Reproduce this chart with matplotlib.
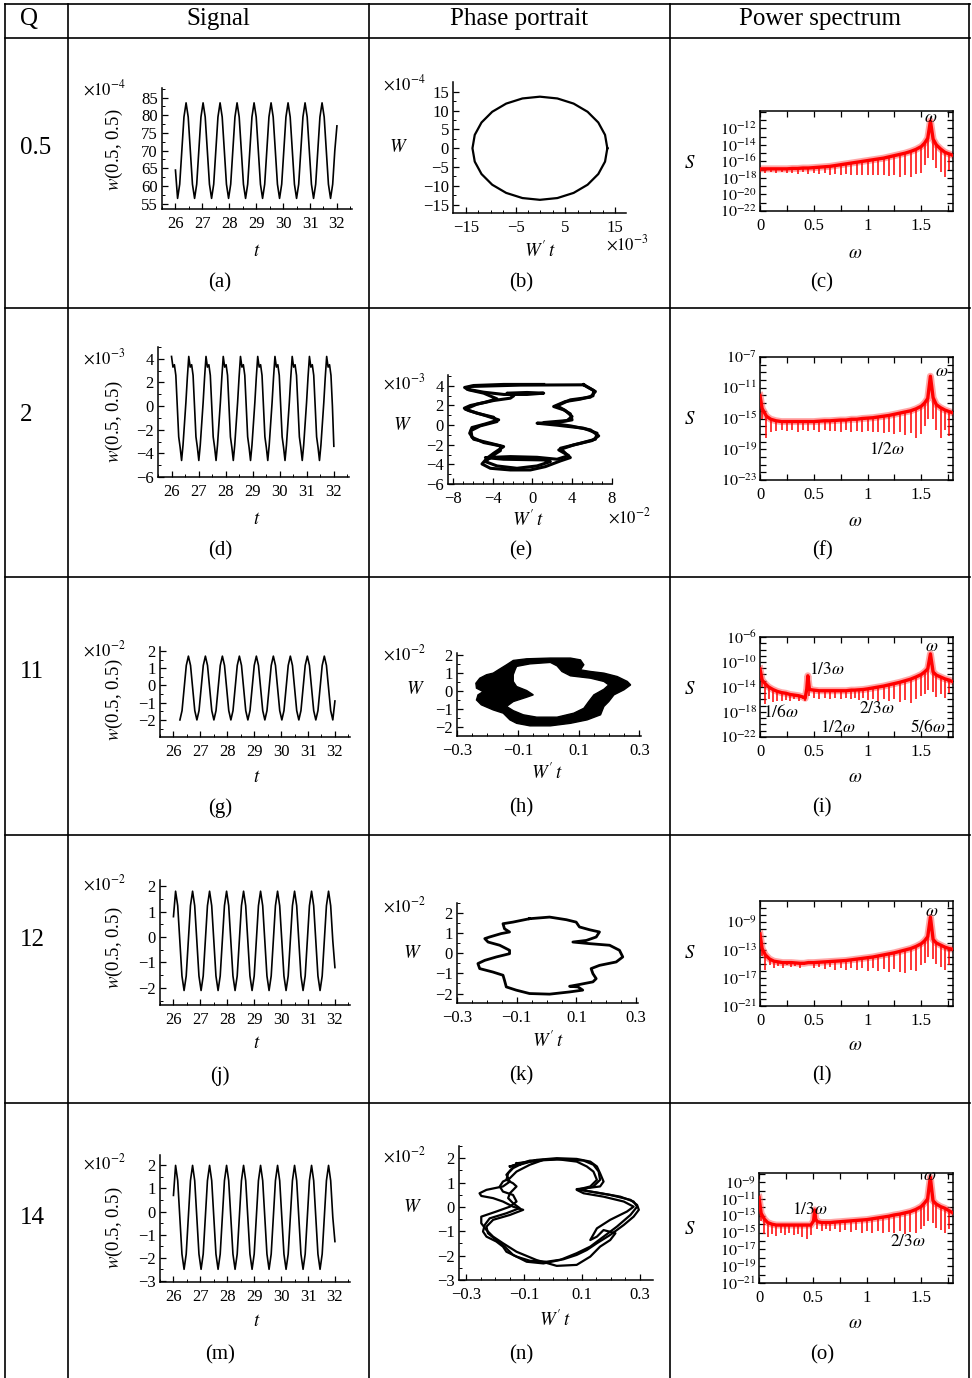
import numpy as np
import matplotlib
matplotlib.use("Agg")
import matplotlib.pyplot as plt
from matplotlib.lines import Line2D
from matplotlib.ticker import FixedLocator, FuncFormatter, NullFormatter

plt.rcParams['font.family'] = ['Liberation Serif', 'DejaVu Serif']
plt.rcParams['mathtext.fontset'] = 'stix'

# ------------------------------------------------------------------ data
headers = ["Q", "Signal", "Phase portrait", "Power spectrum"]
Q_values = ["0.5", "2", "11", "12", "14"]
tags = [["(a)", "(b)", "(c)"], ["(d)", "(e)", "(f)"], ["(g)", "(h)", "(i)"],
        ["(j)", "(k)", "(l)"], ["(m)", "(n)", "(o)"]]

# signals  w(0.5,0.5)  (values in units of the axis multiplier)
sig_a = [64.5,
         56.5, 60.5, 70, 79.5, 83.5, 79.5, 70, 60.5,
         56.5, 60.5, 70, 79.5, 83.5, 79.5, 70, 60.5,
         56.5, 60.5, 70, 79.5, 83.5, 79.5, 70, 60.5,
         56.5, 60.5, 70, 79.5, 83.5, 79.5, 70, 60.5,
         56.5, 60.5, 70, 79.5, 83.5, 79.5, 70, 60.5,
         56.5, 60.5, 70, 79.5, 83.5, 79.5, 70, 60.5,
         56.5, 60.5, 70, 79.5, 83.5, 79.5, 70, 60.5,
         56.5, 60.5, 70, 79.5, 83.5, 79.5, 70, 60.5,
         56.5, 60.5, 70, 79.5, 83.5, 79.5, 70, 60.5,
         56.5, 60.5, 70, 77.0]
sig_d = [4.2, 3.3, 3.5, 2.6, 0.0, -2.6, -3.5, -4.6, -3.3, -1.5, 0.3, 2.4,
         4.2, 3.3, 3.5, 2.6, 0.0, -2.6, -3.5, -4.6, -3.3, -1.5, 0.3, 2.4,
         4.2, 3.3, 3.5, 2.6, 0.0, -2.6, -3.5, -4.6, -3.3, -1.5, 0.3, 2.4,
         4.2, 3.3, 3.5, 2.6, 0.0, -2.6, -3.5, -4.6, -3.3, -1.5, 0.3, 2.4,
         4.2, 3.3, 3.5, 2.6, 0.0, -2.6, -3.5, -4.6, -3.3, -1.5, 0.3, 2.4,
         4.2, 3.3, 3.5, 2.6, 0.0, -2.6, -3.5, -4.6, -3.3, -1.5, 0.3, 2.4,
         4.2, 3.3, 3.5, 2.6, 0.0, -2.6, -3.5, -4.6, -3.3, -1.5, 0.3, 2.4,
         4.2, 3.3, 3.5, 2.6, 0.0, -2.6, -3.5, -4.6, -3.3, -1.5, 0.3, 2.4,
         4.2, 3.3, 3.5, 2.6, 0.0, -2.6, -3.5, -4.6, -3.3, -1.5, 0.3, 2.4,
         4.2, 3.3, 3.5, 2.6, 0.0, -3.4]
sig_g = [-2.0, -1.46, -0.15, 1.16, 1.7, 1.16, -0.15, -1.46,
         -2.0, -1.46, -0.15, 1.16, 1.7, 1.16, -0.15, -1.46,
         -2.0, -1.46, -0.15, 1.16, 1.7, 1.16, -0.15, -1.46,
         -2.0, -1.46, -0.15, 1.16, 1.7, 1.16, -0.15, -1.46,
         -2.0, -1.46, -0.15, 1.16, 1.7, 1.16, -0.15, -1.46,
         -2.0, -1.46, -0.15, 1.16, 1.7, 1.16, -0.15, -1.46,
         -2.0, -1.46, -0.15, 1.16, 1.7, 1.16, -0.15, -1.46,
         -2.0, -1.46, -0.15, 1.16, 1.7, 1.16, -0.15, -1.46,
         -2.0, -1.46, -0.15, 1.16, 1.7, 1.16, -0.15, -1.46,
         -2.0, -0.9]
sig_j = [0.8,
         1.8, 1.23, -0.15, -1.53, -2.1, -1.53, -0.15, 1.23,
         1.8, 1.23, -0.15, -1.53, -2.1, -1.53, -0.15, 1.23,
         1.8, 1.23, -0.15, -1.53, -2.1, -1.53, -0.15, 1.23,
         1.8, 1.23, -0.15, -1.53, -2.1, -1.53, -0.15, 1.23,
         1.8, 1.23, -0.15, -1.53, -2.1, -1.53, -0.15, 1.23,
         1.8, 1.23, -0.15, -1.53, -2.1, -1.53, -0.15, 1.23,
         1.8, 1.23, -0.15, -1.53, -2.1, -1.53, -0.15, 1.23,
         1.8, 1.23, -0.15, -1.53, -2.1, -1.53, -0.15, 1.23,
         1.8, 1.23, -0.15, -1.53, -2.1, -1.53, -0.15, 1.23,
         1.8, 1.23, -0.15, -1.2]
sig_m = [0.7,
         2.0, 1.34, -0.25, -1.84, -2.5, -1.84, -0.25, 1.34,
         2.0, 1.34, -0.25, -1.84, -2.5, -1.84, -0.25, 1.34,
         2.0, 1.34, -0.25, -1.84, -2.5, -1.84, -0.25, 1.34,
         2.0, 1.34, -0.25, -1.84, -2.5, -1.84, -0.25, 1.34,
         2.0, 1.34, -0.25, -1.84, -2.5, -1.84, -0.25, 1.34,
         2.0, 1.34, -0.25, -1.84, -2.5, -1.84, -0.25, 1.34,
         2.0, 1.34, -0.25, -1.84, -2.5, -1.84, -0.25, 1.34,
         2.0, 1.34, -0.25, -1.84, -2.5, -1.84, -0.25, 1.34,
         2.0, 1.34, -0.25, -1.84, -2.5, -1.84, -0.25, 1.34,
         2.0, 1.34, -0.25, -1.3]
sig_t_start = [26.0, 26.0, 26.24, 26.0, 26.0]
sig_t_end = 32.0

# phase portraits (W't on x, W on y; in axis-multiplier units)
b_x = [13.45, 12.99, 11.63, 9.48, 6.68, 3.41, -0.1, -3.61, -6.88, -9.68, -11.83, -13.19, -13.65,
       -13.19, -11.83, -9.68, -6.88, -3.61, -0.1, 3.41, 6.68, 9.48, 11.63, 12.99, 13.45]
b_y = [0.0, 3.55, 6.85, 9.69, 11.86, 13.23, 13.7, 13.23, 11.86, 9.69, 6.85, 3.55, 0.0,
       -3.55, -6.85, -9.69, -11.86, -13.23, -13.7, -13.23, -11.86, -9.69, -6.85, -3.55, 0.0]

e_x1 = [5.15, 6.16, 6.09, 4.82, 3.31, 2.13, 3.14, 3.81, 3.98, 2.47, 0.46, 2.47, 5.15, 6.50, 6.33, 4.82,
        2.81, 3.31, 3.81, 2.81, 1.30, -0.21, -2.23, -4.24, -5.08, -4.58, -3.91, -2.90, -4.24, -5.92,
        -6.32, -6.09, -4.74, -3.40, -4.74, -6.42, -6.86, -6.26, -4.74, -3.57, -4.91, -6.42, -6.83,
        -5.92, -2.90, 1.13]
e_y1 = [4.10, 3.52, 2.98, 2.64, 2.40, 1.89, 1.55, 1.14, 0.53, 0.26, 0.19, -0.01, -0.32, -0.83, -1.44,
        -1.85, -2.36, -2.87, -3.31, -3.65, -4.23, -4.57, -4.57, -4.40, -3.96, -3.38, -2.87, -2.19,
        -1.85, -1.44, -0.83, -0.25, 0.12, 0.53, 0.97, 1.48, 1.72, 1.99, 2.33, 2.67, 3.25, 3.59, 3.83,
        4.03, 4.14, 4.14]
e_x2 = [5.15, 6.33, 5.83, 3.81, 2.47, 3.31, 3.98, 3.48, 1.13, 3.81, 5.83, 6.66, 5.99, 4.15, 2.64, 3.64,
        2.47, 0.46, -2.23, -4.74, -2.90, 1.13, 1.80, 0.46, -1.56, -3.57, -4.74, -4.07, -3.23, -3.23,
        -4.91, -6.09, -6.19, -5.25, -3.57, -3.91, -5.58, -6.76, -5.58, -3.91, -2.23, -1.89, -2.56,
        -0.55, 1.13, -0.55, -2.90, -4.91, -6.59, -6.26, -1.22, 5.15]
e_y2 = [4.10, 3.42, 2.84, 2.57, 1.96, 1.48, 0.87, 0.46, 0.26, -0.08, -0.49, -1.10, -1.58, -2.02, -2.53,
        -3.11, -3.48, -3.28, -3.21, -3.31, -3.48, -3.55, -3.72, -4.16, -4.40, -4.16, -3.72, -3.14,
        -2.60, -2.12, -1.78, -1.24, -0.56, -0.08, 0.36, 0.80, 1.21, 1.62, 2.13, 2.50, 2.74, 2.98,
        3.25, 3.32, 3.25, 3.12, 3.12, 3.35, 3.66, 3.93, 4.07, 4.10]

h_out_x = [-0.115, -0.071, 0.007, 0.073, 0.106, 0.117, 0.106, 0.139, 0.183, 0.227, 0.260, 0.271,
           0.249, 0.216, 0.199, 0.183, 0.172, 0.128, 0.073, 0.007, -0.060, -0.104, -0.126, -0.148,
           -0.181, -0.220, -0.236, -0.231, -0.214, -0.236, -0.238, -0.225, -0.203, -0.181, -0.164,
           -0.137]
h_out_y = [1.69, 1.78, 1.82, 1.82, 1.72, 1.45, 1.17, 1.08, 0.99, 0.80, 0.53, 0.34, 0.07, -0.21,
           -0.58, -0.85, -1.31, -1.59, -1.78, -1.92, -1.92, -1.78, -1.59, -1.22, -1.04, -0.76,
           -0.49, -0.21, -0.03, 0.16, 0.43, 0.71, 0.90, 0.99, 1.17, 1.45]
h_in_x = [-0.104, -0.060, 0.007, 0.029, 0.045, 0.073, 0.139, 0.183, 0.199, 0.183, 0.150, 0.133,
          0.117, 0.084, 0.029, -0.038, -0.082, -0.115, -0.137, -0.115, -0.071, -0.049, -0.071,
          -0.104, -0.115, -0.115, -0.109]
h_in_y = [1.36, 1.50, 1.58, 1.39, 1.08, 0.84, 0.71, 0.53, 0.34, 0.10, -0.21, -0.58, -0.95, -1.22,
          -1.44, -1.44, -1.31, -1.08, -0.85, -0.58, -0.34, -0.21, 0.03, 0.25, 0.53, 0.90, 1.17]

k_x = [-0.057, 0.010, 0.066, 0.099, 0.110, 0.144, 0.177, 0.166, 0.133, 0.088, 0.144, 0.211, 0.244,
       0.255, 0.233, 0.177, 0.149, 0.155, 0.166, 0.155, 0.110, 0.077, 0.105, 0.121, 0.077, 0.010,
       -0.057, -0.102, -0.135, -0.141, -0.146, -0.180, -0.224, -0.230, -0.207, -0.168, -0.124,
       -0.124, -0.157, -0.196, -0.207, -0.191, -0.152, -0.124, -0.141, -0.146, -0.113, -0.057]
k_y = [1.72, 1.80, 1.67, 1.55, 1.31, 1.17, 1.06, 0.81, 0.64, 0.56, 0.48, 0.40, 0.15, -0.18, -0.43,
       -0.60, -0.76, -1.01, -1.26, -1.42, -1.55, -1.64, -1.67, -1.83, -1.92, -2.03, -2.00, -1.83,
       -1.67, -1.34, -1.09, -0.93, -0.76, -0.51, -0.35, -0.18, -0.02, 0.15, 0.40, 0.56, 0.73, 0.81,
       0.98, 1.06, 1.22, 1.47, 1.55, 1.72]

nA_x = [-0.115, -0.057, 0.013, 0.082, 0.129, 0.152, 0.163, 0.175, 0.163, 0.117, 0.082, 0.129, 0.198,
        0.268, 0.291, 0.297, 0.279, 0.245, 0.198, 0.152, 0.117, 0.082, 0.036, -0.022, -0.080, -0.126,
        -0.161, -0.173, -0.196, -0.230, -0.242, -0.236, -0.219, -0.161, -0.115, -0.138, -0.155,
        -0.149, -0.126, -0.138, -0.161, -0.155, -0.138, -0.115]
nA_y = [1.73, 1.93, 2.00, 1.97, 1.86, 1.66, 1.38, 1.04, 0.84, 0.77, 0.73, 0.63, 0.49, 0.29, 0.08,
        -0.12, -0.40, -0.74, -1.15, -1.49, -1.77, -1.97, -2.15, -2.25, -2.21, -2.04, -1.84, -1.63,
        -1.42, -1.22, -1.01, -0.74, -0.47, -0.26, -0.05, 0.15, 0.36, 0.56, 0.84, 0.97, 1.11, 1.38,
        1.59, 1.73]
nB_x = [-0.149, -0.080, -0.033, -0.080, -0.126, -0.149, -0.173, -0.184, -0.173, -0.138, -0.126,
        -0.149, -0.196, -0.248, -0.248, -0.230, -0.207, -0.173, -0.126, -0.057, 0.013, 0.082, 0.129,
        0.163, 0.198, 0.216, 0.175, 0.152, 0.129, 0.152, 0.198, 0.256, 0.279, 0.245, 0.175, 0.106,
        0.082, 0.129, 0.152, 0.140, 0.117, 0.082, 0.013, -0.080, -0.149]
nB_y = [1.66, 1.86, 1.93, 1.73, 1.45, 1.18, 1.04, 0.84, 0.63, 0.49, 0.22, 0.01, -0.19, -0.40, -0.67,
        -0.95, -1.22, -1.49, -1.84, -2.18, -2.42, -2.38, -2.04, -1.63, -1.36, -1.08, -0.95, -1.22,
        -1.36, -0.88, -0.53, -0.19, 0.01, 0.22, 0.42, 0.56, 0.70, 0.84, 1.11, 1.45, 1.66, 1.86, 1.96,
        1.90, 1.66]
nC_x = [-0.126, -0.057, 0.036, 0.106, 0.140, 0.158, 0.163, 0.140, 0.094, 0.152, 0.233, 0.279, 0.291,
        0.268, 0.221, 0.175, 0.129, 0.082, 0.024, -0.033, -0.091, -0.138, -0.167, -0.196, -0.225,
        -0.230, -0.207, -0.149, -0.103, -0.138, -0.173, -0.207, -0.248, -0.254, -0.230, -0.173,
        -0.149, -0.161, -0.144, -0.126]
nC_y = [1.79, 1.90, 1.96, 1.90, 1.73, 1.45, 1.11, 0.84, 0.70, 0.59, 0.42, 0.22, 0.01, -0.33, -0.81,
        -1.22, -1.63, -1.90, -2.18, -2.32, -2.25, -1.97, -1.63, -1.36, -1.08, -0.81, -0.53, -0.33,
        -0.12, 0.01, 0.22, 0.36, 0.45, 0.56, 0.70, 0.84, 1.04, 1.32, 1.55, 1.79]

# power spectra: frequency, log10 S on the band, log10 S at bottom of the comb dip
c_w = [0.00, 0.05, 0.10, 0.15, 0.20, 0.25, 0.30, 0.35, 0.40, 0.45, 0.50, 0.55, 0.60, 0.65, 0.70, 0.75,
       0.80, 0.85, 0.90, 0.95, 1.00, 1.05, 1.10, 1.15, 1.20, 1.25, 1.30, 1.35, 1.40, 1.45, 1.50,
       1.53, 1.56, 1.585, 1.61, 1.64, 1.68, 1.72, 1.76, 1.80]
c_top = [-16.9, -16.9, -16.9, -16.9, -16.9, -16.9, -16.85, -16.85, -16.8, -16.8, -16.75, -16.7, -16.65,
         -16.6, -16.5, -16.4, -16.3, -16.2, -16.1, -16.0, -15.9, -15.8, -15.7, -15.6, -15.45, -15.3,
         -15.15, -15.0, -14.8, -14.55, -14.2, -13.8, -13.2, -11.1, -13.3, -14.0, -14.5, -14.9, -15.1,
         -15.3]
c_bot = [-17.3, -17.4, -17.3, -17.4, -17.3, -17.4, -17.4, -17.5, -17.3, -17.5, -17.4, -17.5, -17.4,
         -17.6, -17.5, -17.6, -17.5, -17.6, -17.6, -17.7, -17.6, -17.7, -17.7, -17.6, -17.8, -17.7,
         -17.9, -17.6, -17.9, -17.5, -17.4, -16.4, -15.6, -11.1, -15.8, -16.8, -17.3, -17.9, -17.0,
         -16.5]
f_w = [0.0, 0.02, 0.06, 0.10, 0.15, 0.20, 0.25, 0.30, 0.35, 0.40, 0.45, 0.50, 0.55, 0.60, 0.65, 0.70,
       0.75, 0.80, 0.85, 0.90, 0.95, 1.00, 1.05, 1.10, 1.15, 1.20, 1.25, 1.30, 1.35, 1.40, 1.45, 1.50,
       1.53, 1.56, 1.585, 1.61, 1.64, 1.68, 1.72, 1.76, 1.80]
f_top = [-12.0, -13.7, -14.7, -15.1, -15.3, -15.4, -15.4, -15.4, -15.4, -15.4, -15.4, -15.4, -15.35,
         -15.3, -15.3, -15.25, -15.2, -15.2, -15.1, -15.1, -15.0, -14.95, -14.9, -14.8, -14.7, -14.6,
         -14.45, -14.3, -14.15, -14.0, -13.75, -13.4, -13.0, -12.4, -9.5, -12.3, -13.2, -13.6, -13.9,
         -14.1, -14.3]
f_bot = [-12.0, -15.0, -17.6, -16.8, -16.6, -16.5, -16.6, -16.5, -16.7, -16.5, -16.6, -16.5, -16.7,
         -16.5, -16.6, -16.6, -16.7, -16.5, -16.7, -16.6, -16.8, -16.6, -16.8, -16.7, -16.9, -16.7,
         -17.0, -16.8, -17.1, -16.9, -17.5, -17.0, -16.0, -15.0, -9.5, -15.0, -16.5, -17.5, -16.5,
         -17.3, -17.0]
i_w = [0.0, 0.02, 0.05, 0.08, 0.12, 0.16, 0.20, 0.24, 0.28, 0.32, 0.36, 0.40, 0.42, 0.435, 0.445, 0.46,
       0.50, 0.55, 0.60, 0.65, 0.70, 0.75, 0.80, 0.85, 0.88, 0.92, 0.96, 1.00, 1.05, 1.10, 1.15, 1.20,
       1.25, 1.30, 1.35, 1.40, 1.45, 1.50, 1.53, 1.56, 1.585, 1.61, 1.64, 1.68, 1.72, 1.76, 1.80]
i_top = [-11.1, -12.9, -13.5, -14.0, -14.4, -14.7, -14.9, -15.0, -15.2, -15.3, -15.4, -15.6, -15.8,
         -14.3, -12.2, -14.4, -14.5, -14.6, -14.6, -14.6, -14.6, -14.6, -14.6, -14.5, -14.5, -14.45,
         -14.4, -14.3, -14.15, -14.0, -13.85, -13.65, -13.45, -13.25, -13.0, -12.75, -12.4, -12.0,
         -11.6, -11.1, -8.7, -11.6, -12.1, -12.4, -12.7, -12.9, -13.2]
i_bot = [-11.1, -14.0, -16.7, -16.0, -16.4, -16.2, -16.3, -16.1, -16.3, -16.0, -16.2, -16.0, -16.3,
         -14.3, -12.2, -15.5, -15.8, -15.9, -15.8, -16.0, -15.7, -16.0, -15.8, -16.0, -15.8, -16.1,
         -15.8, -16.1, -15.9, -16.2, -15.9, -16.3, -16.0, -16.4, -16.1, -16.5, -15.9, -15.5, -15.2,
         -14.5, -8.7, -14.8, -15.6, -15.2, -15.8, -15.0, -15.4]
l_w = [0.0, 0.02, 0.05, 0.09, 0.13, 0.17, 0.21, 0.25, 0.29, 0.33, 0.37, 0.41, 0.45, 0.50, 0.55, 0.60,
       0.65, 0.70, 0.75, 0.80, 0.85, 0.90, 0.95, 1.00, 1.05, 1.10, 1.15, 1.20, 1.25, 1.30, 1.35, 1.40,
       1.45, 1.50, 1.53, 1.56, 1.585, 1.61, 1.64, 1.68, 1.72, 1.76, 1.80]
l_top = [-10.7, -12.8, -13.7, -14.3, -14.6, -14.7, -14.8, -14.8, -14.8, -14.85, -14.9, -14.9, -14.8,
         -14.8, -14.75, -14.7, -14.65, -14.6, -14.55, -14.5, -14.4, -14.3, -14.2, -14.1, -14.0, -13.85,
         -13.7, -13.55, -13.4, -13.2, -13.0, -12.8, -12.5, -12.1, -11.7, -11.1, -8.3, -11.5, -12.0,
         -12.3, -12.6, -12.8, -12.9]
l_bot = [-10.7, -13.8, -15.8, -15.2, -15.6, -15.3, -15.5, -15.2, -15.4, -15.3, -15.5, -15.2, -14.9,
         -15.6, -15.4, -15.7, -15.4, -15.8, -15.5, -15.9, -15.5, -15.9, -15.6, -16.0, -15.6, -16.0,
         -15.7, -16.1, -15.7, -16.2, -16.3, -15.8, -16.0, -15.2, -14.8, -14.0, -8.3, -14.3, -15.0,
         -15.4, -15.8, -15.2, -15.5]
o_w = [0.0, 0.02, 0.05, 0.08, 0.12, 0.16, 0.20, 0.24, 0.28, 0.32, 0.36, 0.40, 0.44, 0.48, 0.505, 0.515,
       0.525, 0.54, 0.58, 0.62, 0.66, 0.70, 0.75, 0.80, 0.85, 0.90, 0.95, 1.00, 1.05, 1.10, 1.15, 1.20,
       1.25, 1.30, 1.35, 1.40, 1.45, 1.50, 1.53, 1.56, 1.585, 1.61, 1.64, 1.68, 1.72, 1.76, 1.80]
o_top = [-10.8, -12.7, -13.4, -13.8, -14.0, -14.1, -14.1, -14.1, -14.1, -14.1, -14.1, -14.1, -14.1,
         -14.1, -13.6, -12.3, -13.4, -13.7, -13.8, -13.8, -13.8, -13.75, -13.7, -13.65, -13.6, -13.55,
         -13.5, -13.45, -13.35, -13.25, -13.15, -13.05, -12.9, -12.8, -12.65, -12.5, -12.25, -11.9,
         -11.5, -11.0, -8.4, -11.2, -11.6, -11.9, -12.1, -12.4, -12.7]
o_bot = [-10.8, -13.6, -15.2, -15.5, -15.2, -15.4, -15.1, -15.3, -15.1, -15.3, -15.2, -15.5, -15.8,
         -15.3, -13.6, -12.3, -13.4, -14.6, -14.8, -14.6, -14.8, -14.6, -14.9, -14.7, -14.9, -14.7,
         -15.0, -14.8, -15.0, -14.8, -15.1, -14.9, -15.1, -14.8, -15.2, -14.9, -15.0, -14.6, -14.2,
         -13.6, -8.4, -13.8, -14.4, -14.7, -15.0, -14.6, -15.0]

# ------------------------------------------------------------------ layout helpers
W, H = 972, 1378
fig = plt.figure(figsize=(W / 100, H / 100), dpi=100)
fig.patch.set_facecolor('white')

TICK_FS = 12
SPEC_TICK_FS = 11.5
LAB_FS = 13.5
ANN_FS = 12.5


def add_ax(x0, y0, x1, y1):
    return fig.add_axes([x0 / W, 1 - y1 / H, (x1 - x0) / W, (y1 - y0) / H])


def ftext(x, y, s, **kw):
    kw.setdefault('ha', 'center')
    kw.setdefault('va', 'center')
    fig.text(x / W, 1 - y / H, s, **kw)


def num_fmt(v, pos):
    s = '%g' % round(v, 6)
    if s == '-0':
        s = '0'
    return s.replace('-', '\u2212')


def open_axes(ax, xlim, ylim, xmaj, xmin, ymaj, ymin):
    ax.set_xlim(*xlim)
    ax.set_ylim(*ylim)
    ax.patch.set_visible(False)
    for s in ['top', 'right']:
        ax.spines[s].set_visible(False)
    for s in ['left', 'bottom']:
        ax.spines[s].set_linewidth(1.1)
    ax.xaxis.set_major_locator(FixedLocator(xmaj))
    ax.xaxis.set_minor_locator(FixedLocator(xmin))
    ax.yaxis.set_major_locator(FixedLocator(ymaj))
    ax.yaxis.set_minor_locator(FixedLocator(ymin))
    ax.xaxis.set_major_formatter(FuncFormatter(num_fmt))
    ax.yaxis.set_major_formatter(FuncFormatter(num_fmt))
    ax.tick_params(which='both', direction='in', labelsize=TICK_FS, top=False, right=False)
    ax.tick_params(which='major', length=4.5, width=0.9)
    ax.tick_params(which='minor', length=2.5, width=0.7)
    ax.tick_params(axis='x', which='both', pad=5)
    ax.tick_params(axis='y', which='both', pad=3)


def rng(a, b, s):
    return list(np.round(np.arange(a, b + s / 2, s), 6))


def spec_axes(ax, ylog, ymaj, ymin):
    ax.set_xlim(0, 1.795)
    ax.set_yscale('log')
    ax.set_ylim(10.0 ** ylog[0], 10.0 ** ylog[1])
    for s in ax.spines.values():
        s.set_linewidth(1.1)
    ax.xaxis.set_major_locator(FixedLocator([0, 0.5, 1.0, 1.5]))
    ax.xaxis.set_minor_locator(FixedLocator([0.25, 0.75, 1.25, 1.75]))
    ax.xaxis.set_major_formatter(FuncFormatter(num_fmt))
    ax.yaxis.set_major_locator(FixedLocator([10.0 ** e for e in ymaj]))
    ax.yaxis.set_minor_locator(FixedLocator([10.0 ** e for e in ymin]))
    ax.yaxis.set_major_formatter(FuncFormatter(lambda v, p: r'$10^{%d}$' % int(round(np.log10(v)))))
    ax.yaxis.set_minor_formatter(NullFormatter())
    ax.tick_params(which='both', direction='in', top=True, right=True)
    ax.tick_params(axis='x', labelsize=TICK_FS)
    ax.tick_params(axis='y', labelsize=SPEC_TICK_FS)
    ax.tick_params(which='major', length=4.5, width=0.9)
    ax.tick_params(which='minor', length=4.0, width=0.9)
    ax.tick_params(axis='x', which='both', pad=5)
    ax.tick_params(axis='y', which='both', pad=2)


def draw_spec(ax, w, top, bot):
    w = np.asarray(w)
    top = 10.0 ** np.asarray(top)
    bot = 10.0 ** np.asarray(bot)
    ax.plot(w, top, color='#ff6060', lw=5.0, alpha=0.55, solid_joinstyle='round', zorder=2)
    ax.vlines(w, bot, top, color='#ff0000', lw=1.1, zorder=3)
    ax.plot(w, top, color='#ff0000', lw=2.4, solid_joinstyle='round', zorder=4)


# ------------------------------------------------------------------ table frame
def hline(y, x0=5, x1=970):
    fig.add_artist(Line2D([x0 / W, x1 / W], [1 - y / H, 1 - y / H], color='black', lw=1.2))


def vline(x, y0=4, y1=1378):
    fig.add_artist(Line2D([x / W, x / W], [1 - y0 / H, 1 - y1 / H], color='black', lw=1.2))


for y in [4, 38, 308, 577, 835, 1103]:
    hline(y)
for x in [5, 68, 369, 670, 969]:
    vline(x)

ftext(20, 19, headers[0], fontsize=18, ha='left')
ftext(218, 19, headers[1], fontsize=18)
ftext(519, 19, headers[2], fontsize=18)
ftext(820, 19, headers[3], fontsize=18)

row_q_y = [148, 415, 672, 940, 1218]
for q, y in zip(Q_values, row_q_y):
    ftext(20, y, q, fontsize=18, ha='left')

tag_y = [283, 551, 808, 1076, 1355]
for r, y in enumerate(tag_y):
    ftext(220, y, tags[r][0], fontsize=15)
    ftext(521, y, tags[r][1], fontsize=15)
    ftext(822, y, tags[r][2], fontsize=15)

# ------------------------------------------------------------------ signals
sig_list = [sig_a, sig_d, sig_g, sig_j, sig_m]
sig_box = [(162, 88, 352, 209), (158, 347, 349, 477), (160, 647, 350, 737),
           (160, 880, 350, 1005), (160, 1155, 350, 1282)]
sig_ylim = [(53.5, 87.7), (-6.0, 5.0), (-2.99, 2.23), (-2.67, 2.24), (-3.05, 2.45)]
sig_ymaj = [rng(55, 85, 5), rng(-6, 4, 2), rng(-2, 2, 1), rng(-2, 2, 1), rng(-3, 2, 1)]
sig_ymin = [rng(57.5, 87.5, 5), rng(-5, 5, 2), rng(-2.5, 2, 0.5), rng(-2.5, 2, 0.5), rng(-2.5, 2, 0.5)]
sig_mult = [r'$\times10^{-4}$', r'$\times10^{-3}$', r'$\times10^{-2}$', r'$\times10^{-2}$', r'$\times10^{-2}$']
sig_mult_y = [89, 358, 650, 884, 1163]
sig_tlab_y = [251, 520, 777, 1043, 1322]
sig_ylab_y = [150, 422, 700, 948, 1228]

for i in range(5):
    ax = add_ax(*sig_box[i])
    vals = sig_list[i]
    t = np.linspace(sig_t_start[i], sig_t_end, len(vals))
    ax.plot(t, vals, color='black', lw=1.2)
    open_axes(ax, (25.5, 32.56), sig_ylim[i], rng(26, 32, 1), rng(25.5, 32.5, 1),
              sig_ymaj[i], sig_ymin[i])
    ftext(83, sig_mult_y[i], sig_mult[i], fontsize=TICK_FS, ha='left')
    ftext(257, sig_tlab_y[i], r'$t$', fontsize=LAB_FS)
    ftext(114, sig_ylab_y[i], r'$w$(0.5, 0.5)', fontsize=LAB_FS, rotation=90)

# ------------------------------------------------------------------ phase portraits
# (b)
ax = add_ax(453, 82, 626, 213)
ax.plot(b_x, b_y, color='black', lw=1.6)
open_axes(ax, (-17.56, 17.2), (-17.2, 17.6), [-15, -5, 5, 15],
          [-12.5, -10, -7.5, -2.5, 0, 2.5, 7.5, 10, 12.5], rng(-15, 15, 5), rng(-12.5, 12.5, 5))
ftext(398, 148, r'$W$', fontsize=LAB_FS)
ftext(383, 84, r'$\times10^{-4}$', fontsize=TICK_FS, ha='left')
ftext(540, 251, r"$W'\,t$", fontsize=LAB_FS)
ftext(606, 244, r'$\times10^{-3}$', fontsize=TICK_FS, ha='left')

# (e)
ax = add_ax(448, 375, 612, 484)
ax.plot(e_x1, e_y1, color='black', lw=2.2, solid_joinstyle='round')
ax.plot(e_x2, e_y2, color='black', lw=2.2, solid_joinstyle='round')
open_axes(ax, (-8.5, 8.0), (-6.0, 5.1), rng(-8, 8, 4), rng(-7, 7, 1),
          rng(-6, 4, 2), rng(-5, 5, 1))
ftext(402, 425, r'$W$', fontsize=LAB_FS)
ftext(383, 383, r'$\times10^{-3}$', fontsize=TICK_FS, ha='left')
ftext(528, 520, r"$W'\,t$", fontsize=LAB_FS)
ftext(608, 517, r'$\times10^{-2}$', fontsize=TICK_FS, ha='left')

# (h)
ax = add_ax(457, 653, 641, 736)
ax.fill(h_out_x, h_out_y, color='black', lw=1.0)
ax.fill(h_in_x, h_in_y, facecolor='white', edgecolor='black', lw=1.0)
open_axes(ax, (-0.3, 0.305), (-2.48, 2.1), [-0.3, -0.1, 0.1, 0.3],
          [-0.25, -0.2, -0.15, -0.05, 0.0, 0.05, 0.15, 0.2, 0.25], rng(-2, 2, 1), rng(-2.5, 2, 0.5))
ftext(415, 690, r'$W$', fontsize=LAB_FS)
ftext(383, 654, r'$\times10^{-2}$', fontsize=TICK_FS, ha='left')
ftext(547, 773, r"$W'\,t$", fontsize=LAB_FS)

# (k)
ax = add_ax(457, 903, 638, 1003)
ax.plot(k_x, k_y, color='black', lw=2.0, solid_joinstyle='round')
open_axes(ax, (-0.3, 0.306), (-2.47, 2.5), [-0.3, -0.1, 0.1, 0.3],
          [-0.25, -0.2, -0.15, -0.05, 0.0, 0.05, 0.15, 0.2, 0.25], rng(-2, 2, 1), rng(-2.5, 2.5, 0.5))
ftext(412, 953, r'$W$', fontsize=LAB_FS)
ftext(383, 906, r'$\times10^{-2}$', fontsize=TICK_FS, ha='left')
ftext(548, 1041, r"$W'\,t$", fontsize=LAB_FS)

# (n)
ax = add_ax(459, 1146, 653, 1280)
for xs, ys in [(nA_x, nA_y), (nB_x, nB_y), (nC_x, nC_y)]:
    ax.plot(xs, ys, color='black', lw=1.6, solid_joinstyle='round')
open_axes(ax, (-0.325, 0.346), (-3.0, 2.5), [-0.3, -0.1, 0.1, 0.3],
          [-0.25, -0.2, -0.15, -0.05, 0.0, 0.05, 0.15, 0.2, 0.25], rng(-3, 2, 1),
          rng(-2.5, 2.5, 0.5))
ftext(412, 1207, r'$W$', fontsize=LAB_FS)
ftext(383, 1156, r'$\times10^{-2}$', fontsize=TICK_FS, ha='left')
ftext(555, 1320, r"$W'\,t$", fontsize=LAB_FS)

# ------------------------------------------------------------------ power spectra
spec_data = [(c_w, c_top, c_bot), (f_w, f_top, f_bot), (i_w, i_top, i_bot),
             (l_w, l_top, l_bot), (o_w, o_top, o_bot)]
spec_box = [(760, 111, 953, 211), (760, 357, 953, 480), (760, 637, 953, 737),
            (760, 901, 953, 1006), (759, 1173, 953, 1283)]
spec_ylim = [(-22, -9.9), (-23, -7), (-22, -6), (-21, -6), (-21, -7.9)]
spec_ymaj = [[-22, -20, -18, -16, -14, -12], [-23, -19, -15, -11, -7], [-22, -18, -14, -10, -6],
             [-21, -17, -13, -9], [-21, -19, -17, -15, -13, -11, -9]]
spec_ymin = [[-21, -19, -17, -15, -13, -11, -10],
             [-22, -21, -20, -18, -17, -16, -14, -13, -12, -10, -9, -8],
             [-21, -20, -19, -17, -16, -15, -13, -12, -11, -9, -8, -7],
             [-20, -19, -18, -16, -15, -14, -12, -11, -10, -8, -7],
             [-20, -18, -16, -14, -12, -10, -8]]
spec_S_y = [164, 420, 690, 953, 1230]
spec_w_y = [253, 522, 778, 1046, 1323]
spec_omega = [(931, 118), (942, 372), (932, 647), (932, 912), (930, 1176)]

for i in range(5):
    ax = add_ax(*spec_box[i])
    draw_spec(ax, *spec_data[i])
    spec_axes(ax, spec_ylim[i], spec_ymaj[i], spec_ymin[i])
    ftext(690, spec_S_y[i], r'$S$', fontsize=LAB_FS)
    ftext(855, spec_w_y[i], r'$\omega$', fontsize=LAB_FS)
    ftext(spec_omega[i][0], spec_omega[i][1], r'$\omega$', fontsize=ANN_FS)

ftext(887, 450, r'$1/2\omega$', fontsize=ANN_FS)
ftext(827, 670, r'$1/3\omega$', fontsize=ANN_FS)
ftext(781, 712, r'$1/6\omega$', fontsize=ANN_FS)
ftext(877, 709, r'$2/3\omega$', fontsize=ANN_FS)
ftext(838, 728, r'$1/2\omega$', fontsize=ANN_FS)
ftext(928, 728, r'$5/6\omega$', fontsize=ANN_FS)
ftext(810, 1210, r'$1/3\omega$', fontsize=ANN_FS)
ftext(908, 1242, r'$2/3\omega$', fontsize=ANN_FS)

fig.savefig('out.png', dpi=100, facecolor='white')
